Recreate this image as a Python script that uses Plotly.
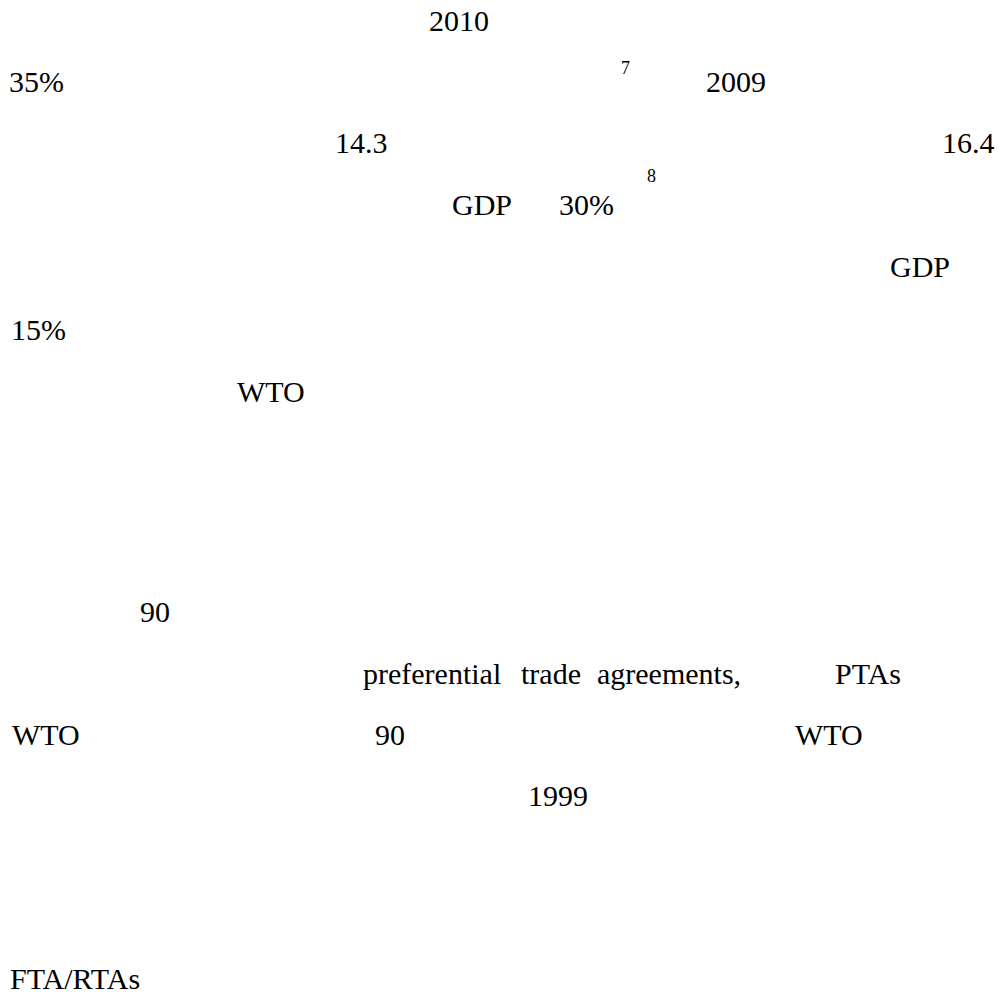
import plotly.graph_objects as go

# Text fragments visible on the page (Latin-script parts only)
words = ["2010",
         "35%", "7", "2009",
         "14.3", "16.4",
         "GDP", "30%", "8",
         "GDP",
         "15%",
         "WTO",
         "90",
         "preferential", "trade", "agreements,", "PTAs",
         "WTO", "90", "WTO",
         "1999",
         "FTA/RTAs"]
word_x = [429,
          9, 621, 706,
          335, 942,
          452, 559, 647,
          890,
          11,
          237,
          140,
          363, 521, 597, 835,
          12, 375, 795,
          528,
          10]
word_y = [20,
          81, 68, 81,
          142, 142,
          204, 204, 176,
          266,
          329,
          391,
          611,
          673, 673, 673, 673,
          734, 734, 734,
          795,
          978]
is_sup = [False,
          False, True, False,
          False, False,
          False, False, True,
          False,
          False,
          False,
          False,
          False, False, False, False,
          False, False, False,
          False,
          False]

W, H = 1005, 996
FONT = "Liberation Serif, Times New Roman, serif"

fig = go.Figure()
fig.add_trace(go.Scatter(x=[0, W], y=[0, H], mode="markers",
                         marker=dict(opacity=0), hoverinfo="skip", showlegend=False))

for t, x, y, s in zip(words, word_x, word_y, is_sup):
    fig.add_annotation(x=x, y=y, xref="x", yref="y", text=t, showarrow=False,
                       xanchor="left", yanchor="middle",
                       borderpad=0, borderwidth=0,
                       font=dict(family=FONT, size=18 if s else 30, color="#000000"))

fig.update_xaxes(range=[0, W], visible=False, fixedrange=True)
fig.update_yaxes(range=[H, 0], visible=False, fixedrange=True)
fig.update_layout(width=W, height=H, margin=dict(l=0, r=0, t=0, b=0),
                  plot_bgcolor="white", paper_bgcolor="white", showlegend=False)

fig.write_html("out.html", config={"displayModeBar": False},
               post_script="document.documentElement.style.margin='0';"
                           "document.body.style.margin='0';"
                           "document.documentElement.style.overflow='hidden';"
                           "document.body.style.overflow='hidden';")
